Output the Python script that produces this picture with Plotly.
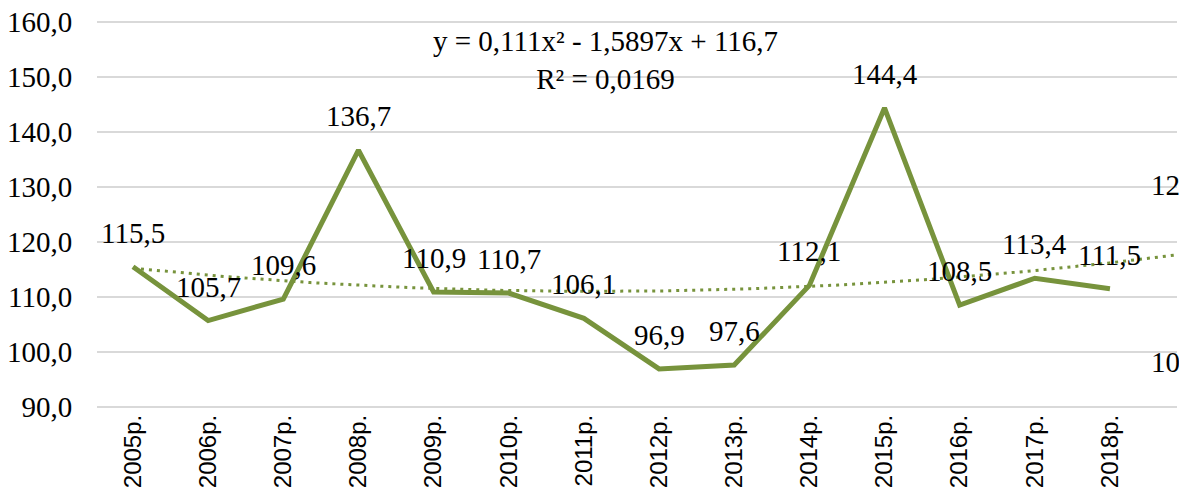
import numpy as np
import plotly.graph_objects as go

years = ["2005р.", "2006р.", "2007р.", "2008р.", "2009р.", "2010р.", "2011р.",
         "2012р.", "2013р.", "2014р.", "2015р.", "2016р.", "2017р.", "2018р."]
values = [115.5, 105.7, 109.6, 136.7, 110.9, 110.7, 106.1,
          96.9, 97.6, 112.1, 144.4, 108.5, 113.4, 111.5]
# Polynomial trendline coefficients as printed on the chart (x = 1, 2, ...)
trend_coef = [0.111, -1.5897, 116.7]
equation_text = "y = 0,111x² - 1,5897x + 116,7<br>R² = 0,0169"
cut_labels = ["12", "10"]
cut_label_values = [130.3, 98.2]
y_ticks = [90, 100, 110, 120, 130, 140, 150, 160]

GREEN = "#77933C"
SERIF = "Times New Roman, Liberation Serif, DejaVu Serif, serif"
SANS = "Arial, Liberation Sans, sans-serif"

xi = np.arange(len(years))
xt = np.linspace(0, len(years) + 1, 300)
yt = np.polyval(trend_coef, xt + 1)

fig = go.Figure()
fig.add_trace(go.Scatter(
    x=xt, y=yt, mode="lines",
    line=dict(color=GREEN, width=3, dash="3px,5px"),
    hoverinfo="skip", showlegend=False))
fig.add_trace(go.Scatter(
    x=xi, y=values, mode="lines",
    line=dict(color=GREEN, width=5),
    showlegend=False))

for x, v in zip(xi, values):
    fig.add_annotation(x=x, y=v, text=f"{v:.1f}".replace(".", ","),
                       showarrow=False, yanchor="middle", yshift=34,
                       font=dict(family=SERIF, size=29, color="black"))

fig.add_annotation(xref="paper", yref="paper", x=0.471, y=0.896,
                   text=equation_text, showarrow=False, align="center",
                   xanchor="center", yanchor="middle",
                   font=dict(family=SERIF, size=29, color="black"))

for t, v in zip(cut_labels, cut_label_values):
    fig.add_annotation(xref="paper", x=1.0, y=v, text=t, showarrow=False,
                       xanchor="right", yanchor="middle", xshift=5,
                       font=dict(family=SERIF, size=29, color="black"))

fig.update_xaxes(
    range=[-0.479, 13.892], tickmode="array", tickvals=list(xi), ticktext=years,
    tickangle=-90, showgrid=False, zeroline=False, showline=False,
    ticks="",
    tickfont=dict(family=SANS, size=24, color="black"),
    ticklabeloverflow="allow", automargin=False)
fig.update_yaxes(
    range=[89.6, 160.4], tickmode="array", tickvals=y_ticks,
    ticktext=[f"{v:.1f}".replace(".", ",") for v in y_ticks],
    showgrid=True, gridcolor="#d9d9d9", gridwidth=1.5, zeroline=False,
    showline=False, ticks="outside", ticklen=18, tickcolor="rgba(0,0,0,0)",
    tickfont=dict(family=SERIF, size=29, color="black"),
    ticklabeloverflow="allow", automargin=False)

# page body has an 8px default margin, so the figure is sized/offset for it
fig.update_layout(
    width=1179, height=486,
    margin=dict(l=89, r=10, t=12, b=85),
    paper_bgcolor="white", plot_bgcolor="white",
    showlegend=False)

fig.write_html("out.html")
